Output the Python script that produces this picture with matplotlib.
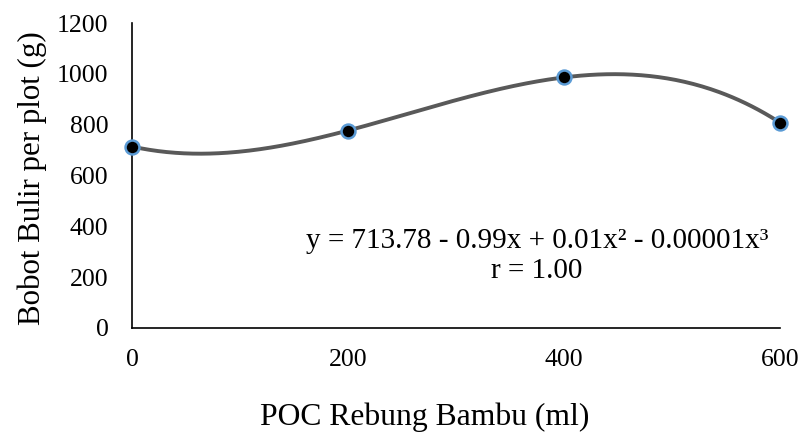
import numpy as np
import matplotlib.pyplot as plt

plt.rcParams['font.family'] = ['Liberation Serif', 'DejaVu Serif']

dose = [0, 200, 400, 600]
weight = [714, 777, 986, 808]
x_ticks = [0, 200, 400, 600]
y_ticks = [0, 200, 400, 600, 800, 1000, 1200]
eq_text = 'y = 713.78 - 0.99x + 0.01x² - 0.00001x³\nr = 1.00'

fig = plt.figure(figsize=(8.05, 4.32), dpi=100)
ax = fig.add_axes([132/805, 1 - 328/432, (780-132)/805, (328-23)/432])

# cubic trend line through the points
coef = np.polyfit(dose, weight, 3)
xs = np.linspace(0, 600, 300)
ax.plot(xs, np.polyval(coef, xs), color='#595959', lw=2.8, zorder=2)
ax.plot(dose, weight, 'o', ms=10, mfc='black', mec='#5B9BD5', mew=1.8,
        zorder=3, clip_on=False)

ax.set_xlim(0, 600)
ax.set_ylim(0, 1200)
ax.set_xticks(x_ticks)
ax.set_yticks(y_ticks)
ax.tick_params(axis='x', length=0, pad=15, labelsize=18.5)
ax.tick_params(axis='y', length=0, pad=17, labelsize=18.5)
for s in ['top', 'right']:
    ax.spines[s].set_visible(False)
for s in ['left', 'bottom']:
    ax.spines[s].set_color('black')
    ax.spines[s].set_linewidth(1.2)

# x title sits a little left of the axis centre, like the original
fig.text(425/805, 7/432, 'POC Rebung Bambu (ml)', fontsize=22.8,
         ha='center', va='baseline')
ax.set_ylabel('Bobot Bulir per plot (g)', fontsize=22.3)
ax.yaxis.set_label_coords(-0.131, 0.49)

ax.text(0.625, 0.236, eq_text, transform=ax.transAxes, ha='center', va='center',
        fontsize=21, linespacing=1.2, multialignment='center')

fig.savefig('out.png', dpi=100)
